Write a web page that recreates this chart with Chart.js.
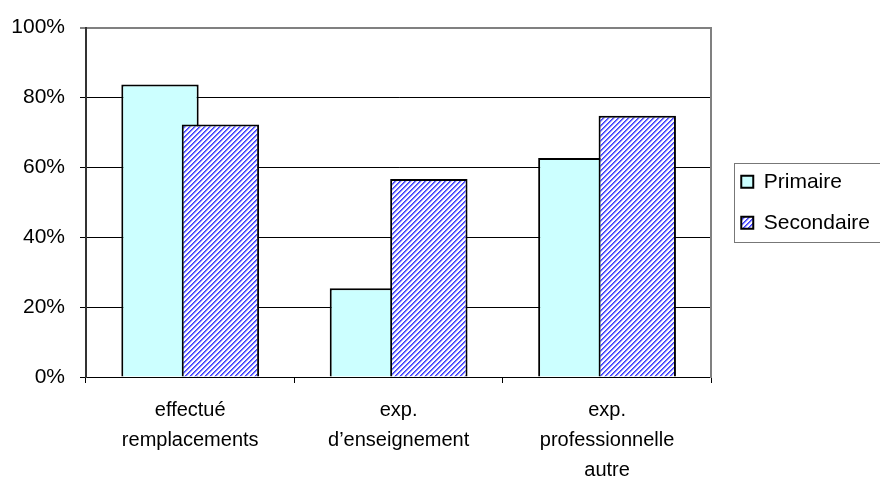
<!DOCTYPE html>
<html>
<head>
<meta charset="utf-8">
<script src="https://cdn.jsdelivr.net/npm/chart.js@4.4.1/dist/chart.umd.min.js"></script>
<style>
  body { margin: 0; background: #fff; }
  #wrap { width: 880px; height: 479px; }
</style>
</head>
<body>
<div id="wrap"><canvas id="chart" width="880" height="479"></canvas></div>
<script>
const categories = [
    ['effectué', 'remplacements'],
    ['exp.', 'd\u2019enseignement'],
    ['exp.', 'professionnelle', 'autre']
];
const primaire = [83.7, 25.4, 62.7];
const secondaire = [72.3, 56.7, 74.8];
const yTicks = [0, 20, 40, 60, 80, 100];

// blue diagonal hatch for the "Secondaire" bars
function makeHatch() {
    const size = 5;
    const c = document.createElement('canvas');
    c.width = size;
    c.height = size;
    const g = c.getContext('2d');
    const img = g.createImageData(size, size);
    const shades = [[60, 60, 255], [110, 110, 255], [205, 205, 255], [255, 255, 255], [250, 250, 255]];
    for (let y = 0; y < size; y++) {
        for (let x = 0; x < size; x++) {
            const s = shades[(x + y) % size];
            const i = (y * size + x) * 4;
            img.data[i] = s[0];
            img.data[i + 1] = s[1];
            img.data[i + 2] = s[2];
            img.data[i + 3] = 255;
        }
    }
    g.putImageData(img, 0, 0);
    return g.createPattern(c, 'repeat');
}

// draw datasets in index order so Secondaire sits on top of Primaire
const drawInOrder = {
    id: 'drawInOrder',
    beforeDatasetsDraw(chart) {
        chart.getSortedVisibleDatasetMetas().forEach(meta => {
            chart.ctx.save();
            meta.controller.draw();
            chart.ctx.restore();
        });
        return false;
    }
};

// frame around the legend, running off the right edge
const legendFrame = {
    id: 'legendFrame',
    afterDraw(chart) {
        const boxes = chart.legend.legendHitBoxes;
        if (!boxes || !boxes.length) return;
        const first = boxes[0];
        const last = boxes[boxes.length - 1];
        const ctx = chart.ctx;
        ctx.save();
        ctx.strokeStyle = '#777';
        ctx.lineWidth = 1;
        const top = Math.round(first.top - 8) + 0.5;
        const bottom = Math.round(last.top + last.height + 9) + 0.5;
        ctx.strokeRect(Math.round(first.left - 7) + 0.5, top, chart.width, bottom - top);
        ctx.restore();
    }
};

Chart.defaults.font.family = '"Liberation Sans", Arial, sans-serif';
Chart.defaults.color = '#000';

const ctx = document.getElementById('chart').getContext('2d');
new Chart(ctx, {
    type: 'bar',
    data: {
        labels: categories,
        datasets: [{
            label: 'Primaire',
            data: primaire,
            backgroundColor: '#ccffff',
            borderColor: '#000',
            borderWidth: 2,
            categoryPercentage: 0.58,
            barPercentage: 1.28
        }, {
            label: 'Secondaire',
            data: secondaire,
            backgroundColor: makeHatch(),
            borderColor: '#000',
            borderWidth: 2,
            categoryPercentage: 0.58,
            barPercentage: 1.28
        }]
    },
    options: {
        responsive: false,
        animation: false,
        layout: { padding: { left: 10, top: 25, right: 0, bottom: 0 } },
        plugins: {
            legend: {
                position: 'right',
                fullSize: false,
                maxWidth: 220,
                labels: {
                    boxWidth: 12,
                    boxHeight: 12,
                    padding: 20,
                    font: { size: 21 },
                    color: '#000'
                }
            },
            tooltip: { enabled: false }
        },
        scales: {
            x: {
                offset: true,
                grid: {
                    offset: true,
                    drawOnChartArea: false,
                    drawTicks: true,
                    tickLength: 6,
                    color: '#000'
                },
                border: { color: '#000', width: 1 },
                ticks: {
                    font: { size: 20, lineHeight: 1.5 },
                    padding: 12,
                    maxRotation: 0,
                    autoSkip: false
                },
                afterFit: scale => { scale.height = 102; }
            },
            y: {
                min: 0,
                max: 100,
                afterBuildTicks: scale => {
                    scale.ticks = yTicks.map(v => ({ value: v }));
                },
                grid: {
                    color: c => (c.tick && c.tick.value === 100 ? '#808080' : '#000'),
                    lineWidth: c => (c.tick && c.tick.value === 100 ? 2 : 1),
                    tickLength: 6
                },
                border: { color: '#333', width: 2 },
                ticks: {
                    font: { size: 21 },
                    padding: 15,
                    callback: v => v + '%'
                },
                afterFit: scale => { scale.width = 76; }
            },
            frame: {
                position: 'right',
                grid: { display: false },
                ticks: { display: false },
                border: { display: true, color: '#808080', width: 2 },
                afterFit: scale => { scale.width = 10; }
            }
        }
    },
    plugins: [drawInOrder, legendFrame]
});
</script>
</body>
</html>
